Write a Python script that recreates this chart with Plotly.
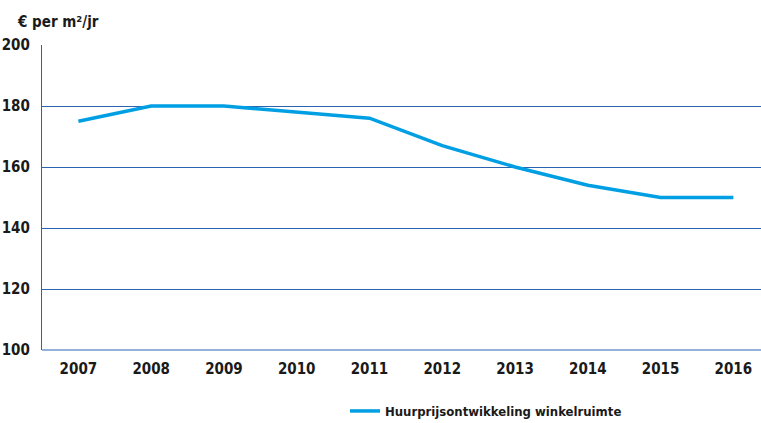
import plotly.graph_objects as go

years = [2007, 2008, 2009, 2010, 2011, 2012, 2013, 2014, 2015, 2016]
huurprijs = [175, 180, 180, 178, 176, 167, 160, 154, 150, 150]
y_ticks = [100, 120, 140, 160, 180, 200]

FONT = "DejaVu Sans Condensed, Roboto, sans-serif"
GRID = "#2a64b0"
LINE = "#009fe3"

fig = go.Figure()
fig.add_trace(go.Scatter(
    x=years, y=huurprijs, mode="lines",
    name="Huurprijsontwikkeling winkelruimte",
    line=dict(color=LINE, width=3.5),
))

fig.update_layout(
    width=761, height=423,
    margin=dict(l=42, r=0, t=45, b=73, autoexpand=False),
    plot_bgcolor="white", paper_bgcolor="white",
    font=dict(family=FONT, size=15, color="#1a1a1a", weight="bold"),
    showlegend=True,
    legend=dict(orientation="h", x=(345 - 42) / 719, xref="paper", y=-46 / 305,
                yanchor="top", xanchor="left", font=dict(size=13, weight="bold")),
    xaxis=dict(range=[2006.5, 2016.38], tickvals=years, showgrid=False,
               zeroline=False, showline=False, ticks="", ticklabelstandoff=8,
               tickfont=dict(weight="bold")),
    yaxis=dict(range=[100, 200], tickvals=y_ticks, showgrid=True,
               gridcolor=GRID, gridwidth=1.2, zeroline=False,
               showline=True, linecolor=GRID, linewidth=1.2, ticks="",
               ticklabelstandoff=8, tickfont=dict(weight="bold")),
    annotations=[dict(text="€ per m²/jr", x=-27 / 719, y=1 + 23 / 305,
                      xref="paper", yref="paper", showarrow=False,
                      xanchor="left", yanchor="middle",
                      font=dict(size=15, weight="bold"))],
    shapes=[dict(type="line", xref="paper", yref="paper", x0=0, x1=1, y0=0, y1=0,
                 line=dict(color=GRID, width=1.2))],
)

fig.write_html("out.html")
